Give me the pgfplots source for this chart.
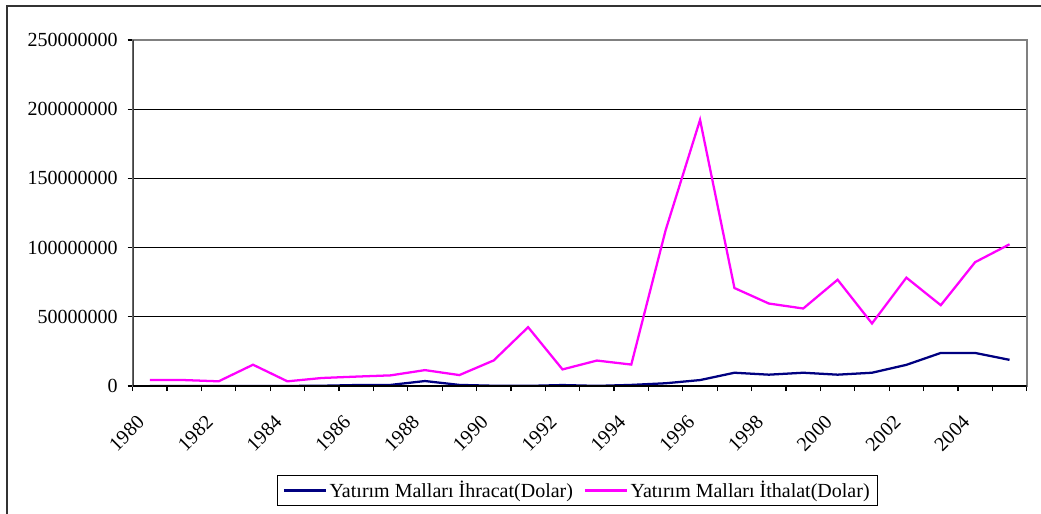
\documentclass[border=0pt]{standalone}
\usepackage{fontspec}
\setmainfont{Liberation Serif}
\usepackage{pgfplots}
\pgfplotsset{compat=1.18}
\definecolor{navyline}{HTML}{000080}
\definecolor{magline}{HTML}{FF00FF}

% values (dollars)
\pgfplotstableread{
x year ihracat ithalat
0  1980 50000    4300000
1  1981 50000    4300000
2  1982 50000    3400000
3  1983 50000    15400000
4  1984 50000    3400000
5  1985 200000   5800000
6  1986 700000   6800000
7  1987 800000   7700000
8  1988 3600000  11500000
9  1989 800000   7900000
10 1990 200000   18500000
11 1991 100000   42500000
12 1992 700000   12000000
13 1993 100000   18400000
14 1994 800000   15500000
15 1995 2000000  112700000
16 1996 4300000  192300000
17 1997 9600000  70800000
18 1998 8200000  59600000
19 1999 9600000  56000000
20 2000 8200000  76800000
21 2001 9600000  45200000
22 2002 15300000 78300000
23 2003 23900000 58400000
24 2004 23900000 89500000
25 2005 18900000 102400000
}\datatable

\begin{document}
\begin{tikzpicture}
\useasboundingbox (-99.5pt,-95.25pt) rectangle (681.2pt,289.5pt);
% chart area frame (only top and left edges are inside the picture)
\draw[line width=1.5pt, black!80] (-94.3pt,-100pt) -- (-94.3pt,285pt) -- (690pt,285pt);
\begin{axis}[
  at={(0,0)}, anchor=south west,
  scale only axis, width=670.5pt, height=259.5pt,
  xmin=-0.5, xmax=25.5, ymin=0, ymax=250000000,
  axis line style={draw=gray, line width=1.5pt},
  tick align=outside,
  xtick pos=bottom, ytick pos=left,
  major tick length=0pt,
  minor tick length=3.75pt,
  tick style={black, line width=0.9pt},
  xtick={-0.259,1.741,3.741,5.741,7.741,9.741,11.741,13.741,15.741,17.741,19.741,21.741,23.741},
  xticklabels={1980,1982,1984,1986,1988,1990,1992,1994,1996,1998,2000,2002,2004},
  minor xtick={-0.5,0.5,...,25.5},
  scaled y ticks=false,
  ytick={0,50000000,100000000,150000000,200000000,250000000},
  yticklabels={0,50000000,100000000,150000000,200000000,250000000},
  minor ytick={0,50000000,100000000,150000000,200000000,250000000},
  ymajorgrids,
  major grid style={black, line width=0.75pt},
  tick label style={font=\fontsize{15}{18}\selectfont},
  xticklabel style={yshift=-24.75pt, rotate=45, anchor=east, inner sep=0pt},
  yticklabel style={xshift=-11pt, anchor=east, inner sep=0pt},
  legend columns=2,
  legend style={at={(0.4975,-0.302)}, anchor=center, draw=black, line width=0.75pt,
    font=\fontsize{15}{18}\selectfont, inner xsep=4pt, inner ysep=2pt,
    /tikz/every even column/.append style={column sep=6pt}},
  legend image code/.code={\draw[#1, line width=1.7pt] (0pt,0pt) -- (31.5pt,0pt);},
]
\addplot[navyline, line width=1.7pt] table[x=x, y=ihracat] {\datatable};
\addlegendentry{Yatırım Malları İhracat(Dolar)}
\addplot[magline, line width=1.7pt] table[x=x, y=ithalat] {\datatable};
\addlegendentry{Yatırım Malları İthalat(Dolar)}
\draw[black!75, line width=1.5pt] (rel axis cs:0,0) -- (rel axis cs:0,1);
\draw[black, line width=1pt] (rel axis cs:0,0) -- (rel axis cs:1,0);
\end{axis}
\end{tikzpicture}
\end{document}
